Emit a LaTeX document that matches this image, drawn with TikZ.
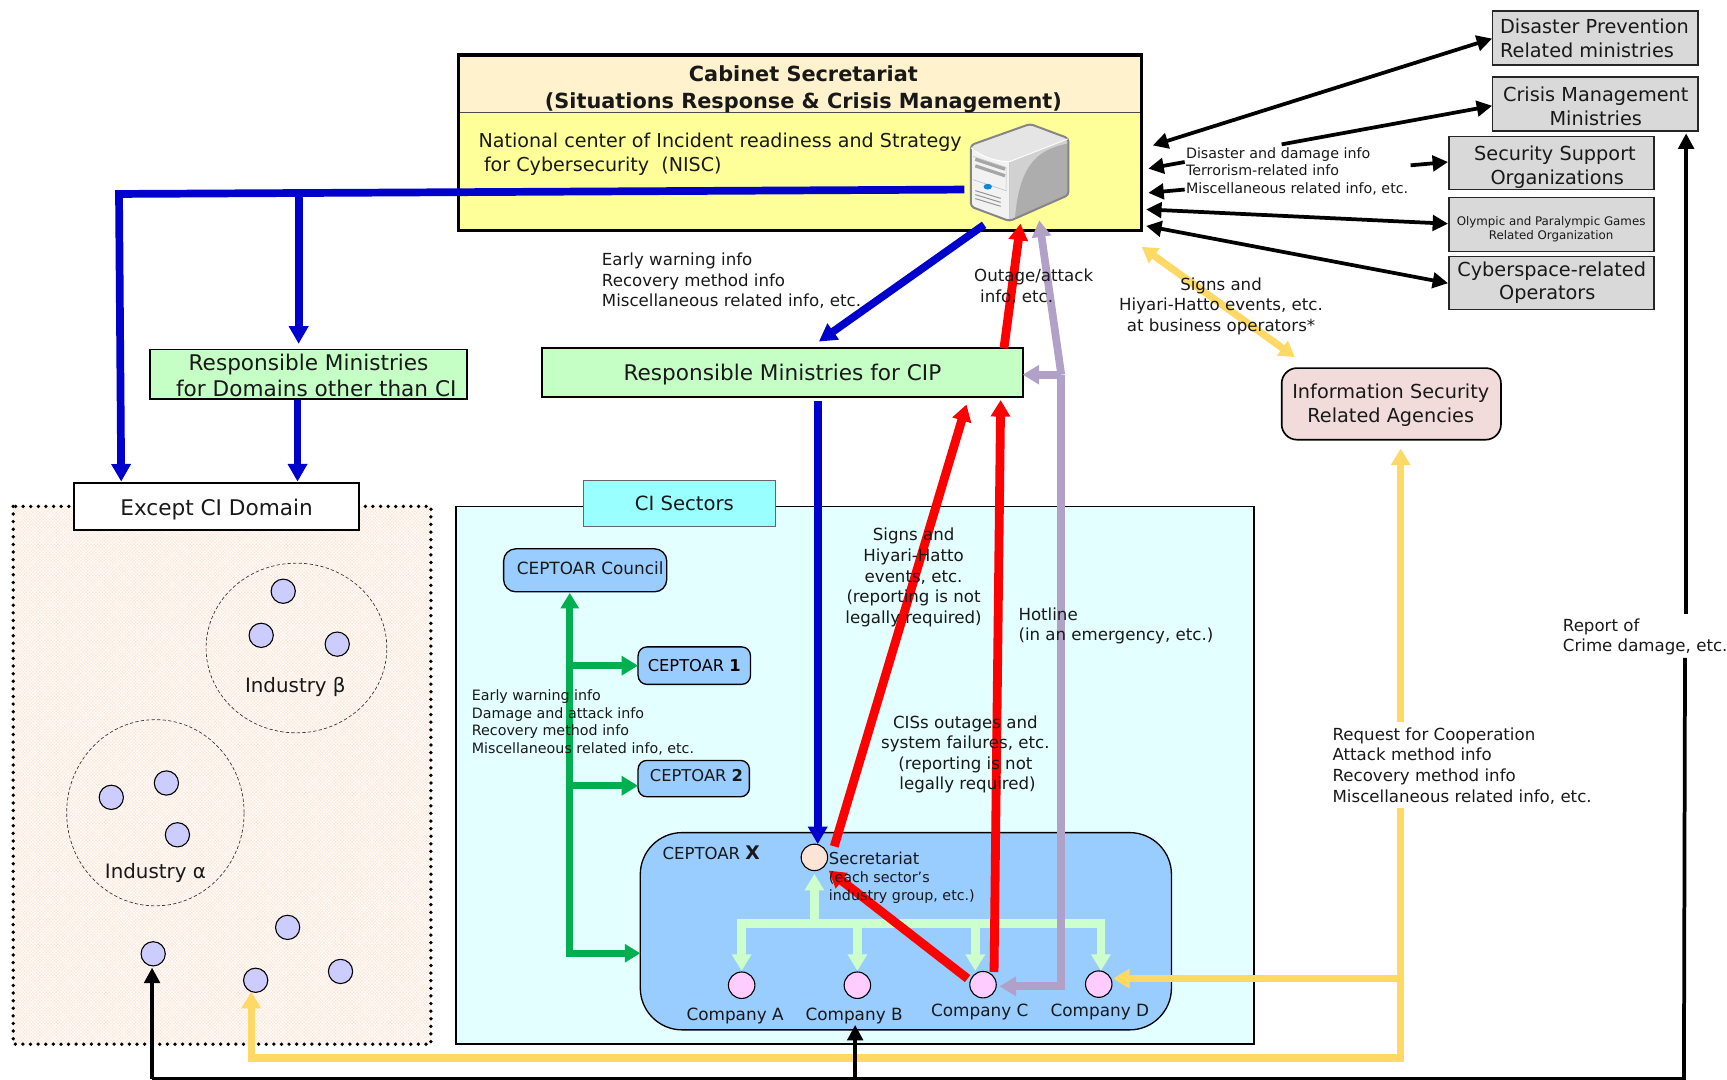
\documentclass[tikz,border=0pt]{standalone}
\usepackage{fontspec}
\setmainfont{DejaVu Sans}
\usetikzlibrary{arrows.meta,patterns}
\definecolor{hdr}{HTML}{FFF2CC}
\definecolor{nisc}{HTML}{FFFF99}
\definecolor{mint}{HTML}{C6FFC6}
\definecolor{cyanpale}{HTML}{E3FFFF}
\definecolor{cyanlab}{HTML}{99FFFF}
\definecolor{skyb}{HTML}{99CCFF}
\definecolor{peach}{HTML}{FDE9DC}
\definecolor{dotfill}{HTML}{CCCCFF}
\definecolor{pinkc}{HTML}{FFCCFF}
\definecolor{secc}{HTML}{FCE4D6}
\definecolor{greyb}{HTML}{D9D9D9}
\definecolor{rosy}{HTML}{F2DCDB}
\definecolor{lilac}{HTML}{B1A0C7}
\definecolor{gold}{HTML}{FFD966}
\definecolor{gr}{HTML}{00B050}
\definecolor{ltgr}{HTML}{CCFFCC}
\definecolor{blu}{HTML}{0000CC}
\newcommand{\fsz}[2]{\fontsize{#1}{#2}\selectfont}
\tikzset{
 bigt/.style={font=\fsz{17.5}{21.5}},
 hugt/.style={font=\fsz{19.6}{24}},
 midt/.style={font=\fsz{15.1}{18.7}},
 smlt/.style={font=\fsz{12.95}{16}},
 cept/.style={font=\fsz{15.3}{18}},
 lab/.style={inner sep=0pt,align=left,anchor=west,text=black!90},
 labc/.style={inner sep=0pt,align=center,text=black!90},
 box/.style={inner sep=0pt,align=center,draw=black,line width=1.5pt},
 grey/.style={box,fill=greyb,draw=black!85,line width=1.3pt,bigt},
 dot/.style={circle,inner sep=0pt,minimum size=#1,draw=black,line width=1pt},
 member/.style={dot=22pt,fill=dotfill},
 firm/.style={dot=24pt,fill=pinkc},
 bluel/.style={draw=blu,line width=7pt},
 redl/.style={draw=red,line width=8pt},
 lill/.style={draw=lilac,line width=7pt},
 goldl/.style={draw=gold,line width=6.5pt},
 grl/.style={draw=gr,line width=6.5pt},
 ltl/.style={draw=ltgr,line width=8pt},
 blkl/.style={draw=black,line width=3.4pt},
 bh/.style={-{Triangle[length=16pt,width=17pt]}},
 rh/.style={-{Triangle[length=15pt,width=17pt]}},
 kh/.style={-{Triangle[length=14pt,width=14pt]}},
 kd/.style={{Triangle[length=14pt,width=14pt]}-{Triangle[length=14pt,width=14pt]}},
}
\begin{document}
\begin{tikzpicture}[x=1pt,y=-1pt]
\useasboundingbox (0,0) rectangle (1567.1,980);
% --- connector ends
\foreach \n/\x/\y in {
 ws/875/172, wc/108/176, wb/271/175, wbe/271/312, wae/110/437, rde/270/437,
 nb/893/204, cipt/743/310, cipb/742/364, sect/742/766,
 s1/757/768, s1e/877/367, c1/878/888, c1e/752/790, c2/902/882, c2e/908/363,
 up1/911/316, up1e/926/203, pc/907/895, pcr/963/895, pm/963/340, pe/943/200, pcip/928/340,
 gy1/1271/655, gy1e/1271/407, gy2/1271/733, gyb/1271/960, gyl/228/960, gyle/228/900, gyd/1271/888, gyde/1010/888,
 gs/1036/224, ge/1175/324,
 bka/138/979, bkae/138/878, bkb/776/979, bkbe/776/930, bkr/1528/979, bkrt/1529/597, bkr2/1530/557, bkr2e/1530/121,
 k1/1046/132, k1e/1354/35, k2/1163/131, k2e/1354/96,
 k3/1075/147, k3e/1042/153, k4/1075/172, k4e/1042/175,
 k5/1040/190, k5e/1314/203, k6/1040/205, k6e/1314/257, k7/1280/150, k7e/1314/147,
 g0/517/538, g0b/517/865, g1/517/604, g1e/579/604, g2/517/713, g2e/579/713, g3e/581/865,
 l0/739/835, l0e/739/793, la/673/838, lae/673/881, lb/778/838, lbe/778/881, lc/885/838, lce/885/881, ld/999/838, lde/999/881}
 {\coordinate (\n) at (\x,\y);}
\path (0,0);
% --- large panels
\fill[peach] (12,459.5) rectangle (391,947.5);
\fill[pattern=crosshatch,pattern color=white] (12,459.5) rectangle (391,947.5);
\draw[line width=3.4pt,line cap=round,dash pattern=on 0pt off 6.9pt] (12,459.5) rectangle (391,947.5);
\node[box,fill=white,minimum width=259pt,minimum height=43pt] (except) at (196.5,459.5) {};
\node[box,fill=cyanpale,minimum width=724pt,minimum height=488pt] (sectors) at (776,703.5) {};
\node[inner sep=0pt,fill=cyanlab,draw=black!60,line width=.7pt,minimum width=175pt,minimum height=42pt] (cilab) at (616.5,457) {};
\node[labc,font=\fsz{17.8}{20}] (cilabt) at (621,457) {CI Sectors};
\node[box,line width=1.2pt,fill=skyb,rounded corners=38pt,minimum width=482pt,minimum height=179pt] (x) at (822,845) {};
\node[box,line width=1.2pt,fill=skyb,rounded corners=11pt,minimum width=148pt,minimum height=39pt] (council) at (531,517.5) {};
\node[labc,cept] (councilt) at (535.5,516) {CEPTOAR Council};
\node[box,line width=1.2pt,fill=skyb,rounded corners=8pt,minimum width=102pt,minimum height=34pt,font=\fsz{14.8}{18}] (c1box) at (630,604) {CEPTOAR \textbf{1}};
\node[box,line width=1.2pt,fill=skyb,rounded corners=8pt,minimum width=101pt,minimum height=33pt] (c2box) at (629.5,706.5) {};
\node[labc,font=\fsz{14.8}{18}] (c2t) at (632,704) {CEPTOAR \textbf{2}};
% --- NISC
\node[inner sep=0pt,fill=nisc,minimum width=620pt,minimum height=159pt] (niscbody) at (726,129.5) {};
\fill[hdr] (416,50) rectangle (1036,102);
\draw[black!70,line width=.8pt] (416,102) -- (1036,102);
\draw[line width=3pt] (416,50) rectangle (1036,209);
% server
\coordinate (sa) at (934.7,112.5); \coordinate (sb) at (969.5,125.5); \coordinate (sc) at (969.5,177);
\coordinate (sd) at (916,200.6); \coordinate (se) at (881,187.5); \coordinate (sf) at (881,131.6); \coordinate (sg) at (916,146.7);
\fill[black!10,rounded corners=3pt] (sa) -- (sb) -- (sc) -- (sd) -- (se) -- (sf) -- cycle;
\fill[black!5] (881,134) .. controls (890,142) and (904,146.7) .. (sg) -- (sd) -- (882,187) -- cycle;
\fill[black!32] (sg) -- (sb) -- (sc) -- (sd) -- cycle;
\fill[black!18] (sg) -- (sb) -- (969.5,130) .. controls (945,135) and (925,145) .. (921,198) -- (sd) -- cycle;
\draw[black!48,line width=1.8pt,line join=round,rounded corners=3pt] (sa) -- (sb) -- (sc) -- (sd) -- (se) -- (sf) -- cycle;
\draw[white,line width=.9pt] (881,134) .. controls (890,142) and (904,146.7) .. (sg) -- (969,126);
\foreach \d in {0,6}{\draw[black!35,line width=3pt] (885,{144.5+\d}) -- (912,{153.5+\d});}
\draw[black!25,line width=.6pt] (883,142) -- (913,152) -- (913,173) -- (883,163);
\foreach \d in {0,3.6,7.2}{\draw[black!42,line width=.9pt] (885,{173+\d}) -- (908,{180+\d});}
\fill[cyan!70!blue] (896.3,169.4) ellipse (3.8pt and 2.6pt);
% --- mid boxes
\node[box,fill=mint,minimum width=288pt,minimum height=45pt] (dom) at (280,339.5) {};
\node[box,fill=mint,minimum width=436pt,minimum height=44pt] (cip) at (710,338) {};
\node[box,fill=rosy,rounded corners=14pt,minimum width=199pt,minimum height=65pt] (isra) at (1262.5,366.5) {};
\node[grey,minimum width=186.5pt,minimum height=49pt] (g1b) at (1447.7,34.5) {};
\node[grey,minimum width=186.5pt,minimum height=49pt] (g2b) at (1447.7,94.5) {};
\node[grey,minimum width=186pt,minimum height=48pt] (g3b) at (1408,148) {};
\node[grey,minimum width=186pt,minimum height=49pt] (g4b) at (1408,203.5) {};
\node[grey,minimum width=186pt,minimum height=48pt] (g5b) at (1408,257) {};
% --- industry groups
\draw[black!80,line width=.6pt,densely dashed] (269,588) ellipse (82pt and 77pt);
\draw[black!80,line width=.6pt,densely dashed] (141,737.5) ellipse (80.5pt and 84.5pt);
\node[member] (m1) at (257,536.5) {};
\node[member] (m2) at (237,576.5) {};
\node[member] (m3) at (306,584.5) {};
\node[member] (m4) at (101,723.5) {};
\node[member] (m5) at (151,710.5) {};
\node[member] (m6) at (161,757.5) {};
\node[member] (m7) at (261,841.5) {};
\node[member] (m8) at (139,865.5) {};
\node[member] (m9) at (232,889.5) {};
\node[member] (m10) at (309,881.5) {};
% --- connectors
\draw[bluel,bh,line join=miter] (ws) -- (wc) -- (wae);
\draw[bluel,bh] (wb) -- (wbe);
\draw[bluel,bh] (dom.south -| rde) -- (rde);
\draw[bluel,bh] (nb) -- (cipt);
\draw[bluel,bh] (cipb) -- (sect);
\draw[grl,{Triangle[length=14pt,width=16pt]}-{Triangle[length=14pt,width=16pt]}] (g0) -- (g0b) -- (g3e);
\draw[grl,rh] (g1) -- (g1e);
\draw[grl,rh] (g2) -- (g2e);
\draw[ltl,line cap=rect] (la) -- (ld);
\draw[ltl,rh] (l0) -- (l0e);
\draw[ltl,rh] (la) -- (lae);
\draw[ltl,rh] (lb) -- (lbe);
\draw[ltl,rh] (lc) -- (lce);
\draw[ltl,rh] (ld) -- (lde);
\draw[lill,rh] (pm) -- (pe);
\draw[lill,rh] (pm) -- (pcip);
\draw[lill,rh] (pm) -- (pcr) -- (pc);
\draw[redl,rh] (s1) -- (s1e);
\draw[redl,rh] (c1) -- (c1e);
\draw[redl,rh] (c2) -- (c2e);
\draw[redl,rh] (up1) -- (up1e);
\draw[goldl,rh] (gy1) -- (gy1e);
\draw[goldl,rh] (gy2) -- (gyb) -- (gyl) -- (gyle);
\draw[goldl,rh] (gyd) -- (gyde);
\draw[goldl,{Triangle[length=14pt,width=16pt]}-{Triangle[length=14pt,width=16pt]}] (gs) -- (ge);
\draw[blkl,kh] (bka) -- (bkae);
\draw[blkl,kh] (bkb) -- (bkbe);
\draw[blkl] (bka) -- (bkr) -- (bkrt);
\draw[blkl,kh] (bkr2) -- (bkr2e);
\draw[blkl,kd] (k1) -- (k1e);
\draw[blkl,kh] (k2) -- (k2e);
\draw[blkl,kh] (k3) -- (k3e);
\draw[blkl,kh] (k4) -- (k4e);
\draw[blkl,kd] (k5) -- (k5e);
\draw[blkl,kd] (k6) -- (k6e);
\draw[blkl,kh] (k7) -- (k7e);
% --- circles in X
\node[dot=24pt,fill=secc] (sec) at (739,778) {};
\node[firm] (ca) at (673,894) {};
\node[firm] (cb) at (778,894) {};
\node[firm] (cc) at (892,893.5) {};
\node[firm] (cd) at (997,893) {};
% --- box texts
\node[labc,hugt] (excepttxt) at (196.5,462) {Except CI Domain};
\node[labc,hugt] (domtxt) at (280,340.5) {Responsible Ministries\\\hspace*{14pt}for Domains other than CI};
\node[labc,hugt] (ciptxt) at (710,340) {Responsible Ministries for CIP};
\node[labc,bigt] (isratxt) at (1262,367.5) {Information Security\\Related Agencies};
\node[lab,bigt] (g1t) at (1361,34.5) {Disaster Prevention\\Related ministries};
\node[labc,bigt] (g2t) at (1448,96.5) {Crisis Management\\Ministries};
\node[labc,bigt] (g3t) at (1411,151.5) {Security Support\\\hspace*{4pt}Organizations};
\node[labc,font=\fsz{10.75}{13}] (g4t) at (1407.5,208) {Olympic and Paralympic Games\\Related Organization};
\node[labc,bigt] (g5t) at (1408,256.5) {Cyberspace-related\\Operators\hspace*{8pt}};
% --- texts
\node[labc,font=\fsz{18.9}{25}\bfseries] (ttl) at (729,81) {Cabinet Secretariat\\(Situations Response \& Crisis Management)};
\node[lab,font=\fsz{17.35}{21.3}] (nt) at (434,140) {National center of Incident readiness and Strategy\\\hspace*{5pt}for Cybersecurity\ \ (NISC)};
\node[lab,midt] (t1) at (546,255) {Early warning info\\Recovery method info\\Miscellaneous related info, etc.};
\node[labc,midt] (t2) at (938,260) {Outage/attack\\info, etc.\hspace*{31pt}};
\node[labc,midt] (t3) at (1108,278) {Signs and\\Hiyari-Hatto events, etc.\\at business operators*};
\node[lab,smlt] (t4) at (1076,155.5) {Disaster and damage info\\Terrorism-related info\\Miscellaneous related info, etc.};
\node[labc,midt] (t5) at (829,524) {Signs and\\Hiyari-Hatto\\events, etc.\\(reporting is not\\legally required)};
\node[lab,midt] (t6) at (924,568) {Hotline\\(in an emergency, etc.)};
\node[lab,smlt] (t7) at (428,655.5) {Early warning info\\Damage and attack info\\Recovery method info\\Miscellaneous related info, etc.};
\node[labc,midt] (t8) at (876,684.5) {CISs outages and\\system failures, etc.\\(reporting is not\\\hspace*{4pt}legally required)};
\node[lab,midt] (t9) at (1418,578) {Report of\\Crime damage, etc.};
\node[lab,midt] (t10) at (1209,695) {Request for Cooperation\\Attack method info\\Recovery method info\\Miscellaneous related info, etc.};
\node[lab,font=\fsz{15}{18}] (t11) at (601,773.5) {CEPTOAR \textbf{\fsz{17}{18}X}};
\node[lab,font=\fsz{14.9}{18}] (t12) at (752,779) {Secretariat};
\node[lab,smlt] (t13) at (752,805.5) {(each sector’s\\industry group, etc.)};
\node[labc,cept] (ta) at (667,922) {Company A};
\node[labc,cept] (tb) at (775,922) {Company B};
\node[labc,cept] (tc) at (889,918.5) {Company C};
\node[labc,cept] (td) at (998,918.5) {Company D};
\node[labc,font=\fsz{18}{20}] (ib) at (268,623.5) {Industry β};
\node[labc,font=\fsz{18}{20}] (ia) at (141,792.5) {Industry α};
\end{tikzpicture}
\end{document}
